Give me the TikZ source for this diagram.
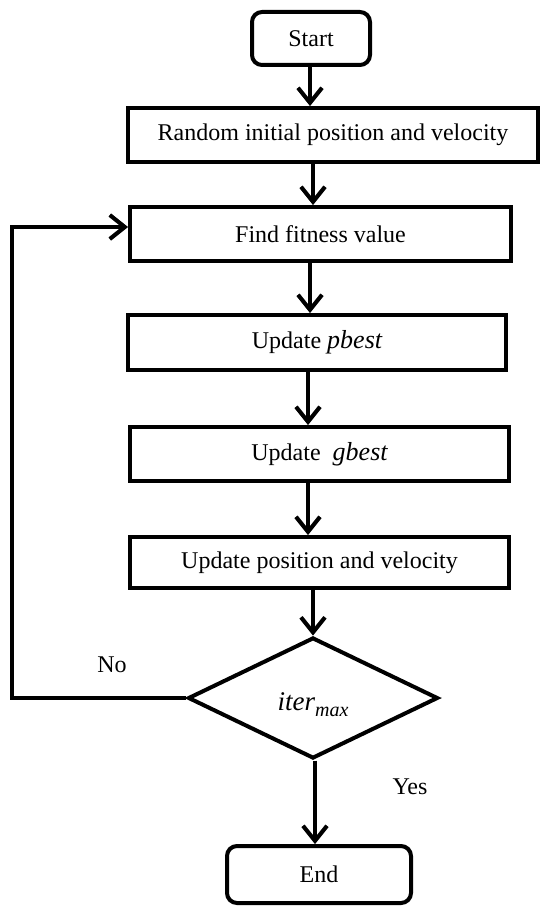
\documentclass[tikz,border=0pt]{standalone}
\usepackage{fontspec}
\setmainfont{Liberation Serif}
\usetikzlibrary{arrows.meta,shapes.geometric}
\begin{document}
\begin{tikzpicture}[x=1pt,y=-1pt,
  font=\fontsize{24}{28}\selectfont,
  every node/.style={inner sep=0pt},
  procbox/.style={draw=black,line width=4pt,fill=white,align=center},
  termbox/.style={procbox,rounded corners=10pt},
  decbox/.style={draw=black,line width=4pt,fill=white,diamond,minimum width=250pt,minimum height=121pt},
  conn/.style={line width=4pt,-{Straight Barb[length=15pt,width=24pt,line width=4pt]}},
  shade/.style={line width=4pt,draw=gray!60,-{Straight Barb[length=15pt,width=24pt,line width=4pt]},xshift=1.2pt,yshift=-2.5pt},
  mathit/.style={font=\fontsize{26}{30}\selectfont\itshape},
  lbl/.style={}]
\useasboundingbox (0,0) rectangle (542,907);
\node[termbox,minimum width=118pt,minimum height=53pt] (start) at (311,38.5) {Start};
\node[procbox,minimum width=410pt,minimum height=54pt] (rand) at (333,135) {Random initial position and velocity};
\node[procbox,minimum width=381pt,minimum height=54pt] (find) at (320.5,234) {Find fitness value};
\node[procbox,minimum width=378pt,minimum height=55pt] (pb) at (317,342.5) {Update {\fontsize{26}{30}\selectfont\itshape pbest}};
\node[procbox,minimum width=379pt,minimum height=54pt] (gb) at (319.5,454) {Update\hspace{0.5em}{\fontsize{26}{30}\selectfont\itshape gbest}};
\node[procbox,minimum width=379pt,minimum height=51pt] (pos) at (319.5,562.5) {Update position and velocity};
\node[decbox] (dec) at (313,698) {};
\node (dectext) at (313,705) {{\fontsize{27}{30}\selectfont\itshape iter}\raisebox{-6pt}{\fontsize{20}{20}\selectfont\itshape max}};
\node[termbox,minimum width=184pt,minimum height=57pt] (end) at (319,874.5) {End};
\node[lbl] (no) at (112,665) {No};
\node[lbl] (yes) at (410,787) {Yes};
\coordinate (lpA) at (12,700);
\coordinate (lpB) at (12,227);
% shadows
\draw[shade] (dec.west) -- (dec.west -| lpA) -- (lpB) -- (lpB -| find.west);
\draw[shade] ([xshift=-1pt]start.south) -- ([xshift=-1pt]start.south |- rand.north);
\draw[shade] ([xshift=-20pt]rand.south) -- ([xshift=-20pt]rand.south |- find.north);
\draw[shade] ([xshift=-10.5pt]find.south) -- ([xshift=-10.5pt]find.south |- pb.north);
\draw[shade] ([xshift=-9pt]pb.south) -- ([xshift=-9pt]pb.south |- gb.north);
\draw[shade] ([xshift=-11.5pt]gb.south) -- ([xshift=-11.5pt]gb.south |- pos.north);
\draw[shade] ([xshift=-6.5pt]pos.south) -- (dec.north);
\draw[shade] ([xshift=2pt]dec.south) -- ([xshift=2pt]dec.south |- end.north);
% connectors
\draw[conn] ([xshift=-1pt]start.south) -- ([xshift=-1pt]start.south |- rand.north);
\draw[conn] ([xshift=-20pt]rand.south) -- ([xshift=-20pt]rand.south |- find.north);
\draw[conn] ([xshift=-10.5pt]find.south) -- ([xshift=-10.5pt]find.south |- pb.north);
\draw[conn] ([xshift=-9pt]pb.south) -- ([xshift=-9pt]pb.south |- gb.north);
\draw[conn] ([xshift=-11.5pt]gb.south) -- ([xshift=-11.5pt]gb.south |- pos.north);
\draw[conn] ([xshift=-6.5pt]pos.south) -- (dec.north);
\draw[conn] ([xshift=2pt]dec.south) -- ([xshift=2pt]dec.south |- end.north);
\draw[conn] (dec.west) -- (dec.west -| lpA) -- (lpB) -- (lpB -| find.west);
\end{tikzpicture}
\end{document}
